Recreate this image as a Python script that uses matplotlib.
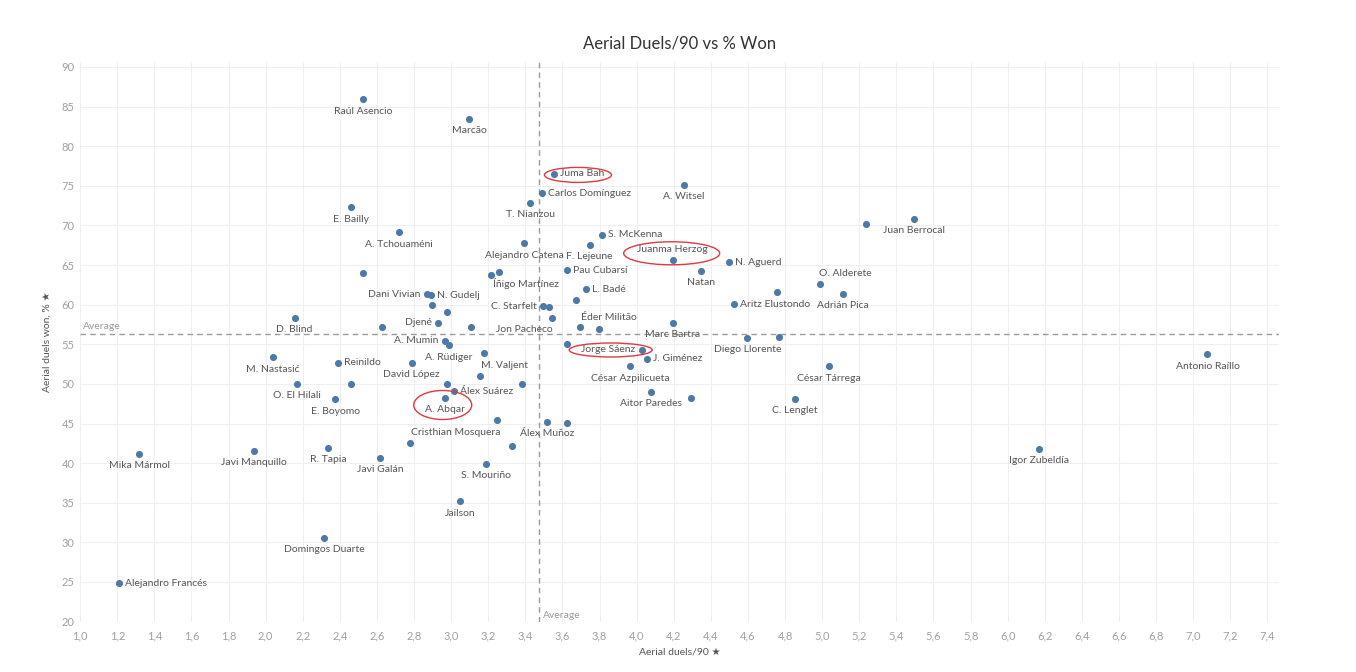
import matplotlib
matplotlib.use("Agg")
import matplotlib.pyplot as plt
from matplotlib.patches import Ellipse
from matplotlib.transforms import IdentityTransform
from matplotlib.ticker import FuncFormatter, MultipleLocator

plt.rcParams['font.family'] = ['Lato', 'DejaVu Sans']

# --- data ---
names = ["Raúl Asencio", "Marcão", "E. Bailly", "A. Tchouaméni", "T. Nianzou",
         "Alejandro Catena", "", "Dani Vivian", "N. Gudelj", "", "", "Djené", "",
         "D. Blind", "", "", "Íñigo Martínez", "A. Mumin", "A. Rüdiger",
         "M. Nastasić", "Reinildo", "David López", "M. Valjent", "", "O. El Hilali",
         "", "E. Boyomo", "", "Álex Suárez", "A. Abqar", "", "Cristhian Mosquera",
         "", "", "S. Mouriño", "Jailson", "Mika Mármol", "Javi Manquillo", "R. Tapia",
         "Javi Galán", "Domingos Duarte", "Alejandro Francés", "Juma Bah", "A. Witsel",
         "Carlos Domínguez", "S. McKenna", "F. Lejeune", "Juanma Herzog", "Natan",
         "N. Aguerd", "O. Alderete", "Pau Cubarsí", "L. Badé", "", "C. Starfelt", "",
         "Jon Pacheco", "", "Éder Militão", "Marc Bartra", "Diego Llorente", "",
         "Jorge Sáenz", "", "J. Giménez", "César Azpilicueta", "César Tárrega",
         "Aritz Elustondo", "", "Aitor Paredes", "", "C. Lenglet", "Álex Muñoz", "",
         "", "Juan Berrocal", "Adrián Pica", "Antonio Raíllo", "Igor Zubeldía"]

duels90 = [2.525, 3.098, 2.458, 2.717, 3.426, 3.394, 2.525, 2.868, 2.890, 2.898,
           2.976, 2.927, 2.627, 2.156, 3.107, 3.216, 3.256, 2.965, 2.987, 2.039,
           2.388, 2.787, 3.175, 3.157, 2.167, 2.458, 2.375, 2.976, 3.015, 2.965,
           3.383, 3.245, 2.776, 3.328, 3.186, 3.047, 1.317, 1.935, 2.336, 2.618,
           2.316, 1.207, 3.554, 4.253, 3.488, 3.815, 3.746, 4.194, 4.347, 4.496,
           4.986, 3.624, 3.725, 3.675, 3.495, 3.527, 3.545, 3.696, 3.797, 4.194,
           4.596, 4.766, 4.027, 3.624, 4.056, 3.966, 5.035, 4.523, 4.755, 4.075,
           4.294, 4.855, 3.516, 3.626, 5.236, 5.496, 5.114, 7.077, 6.170]

won_pct = [85.92, 83.47, 72.29, 69.14, 72.87, 67.75, 64.00, 61.31, 61.18, 60.00,
           59.08, 57.69, 57.19, 58.36, 57.19, 63.75, 64.16, 55.42, 54.87, 53.36,
           52.64, 52.64, 53.86, 50.96, 49.99, 49.99, 48.06, 49.99, 49.10, 48.22,
           49.99, 45.41, 42.58, 42.16, 39.93, 35.18, 41.16, 41.57, 41.91, 40.65,
           30.59, 24.87, 76.50, 75.14, 74.06, 68.84, 67.57, 65.60, 64.25, 65.35,
           62.57, 64.34, 61.94, 60.59, 59.83, 59.74, 58.36, 57.19, 56.93, 57.69,
           55.80, 55.88, 54.28, 55.04, 53.19, 52.22, 52.22, 60.05, 61.60, 48.98,
           48.22, 48.14, 45.23, 45.07, 70.15, 70.82, 61.35, 53.74, 41.79]

avg_duels90 = 3.476
avg_won = 56.35

highlighted = ["Juma Bah", "Juanma Herzog", "Jorge Sáenz", "A. Abqar"]

# --- label placement (b=below, a=above, r=right, l=left) ---
place = {"Dani Vivian": "l", "N. Gudelj": "r", "Djené": "l", "A. Mumin": "l",
         "Reinildo": "r", "Álex Suárez": "r", "Alejandro Francés": "r",
         "Juma Bah": "r", "Carlos Domínguez": "r", "S. McKenna": "r",
         "Juanma Herzog": "a", "N. Aguerd": "r", "O. Alderete": "a",
         "Pau Cubarsí": "r", "L. Badé": "r", "C. Starfelt": "l", "Éder Militão": "a",
         "Jorge Sáenz": "l", "J. Giménez": "r", "Aritz Elustondo": "r"}
nudge = {"Íñigo Martínez": 27, "M. Valjent": 21, "Cristhian Mosquera": -41,
         "Jon Pacheco": -28, "O. Alderete": 26, "Éder Militão": 10}
# ellipse: dx, dy (px from dot), width, height (px)
ring = {"Juma Bah": (24, -1, 67, 15), "Juanma Herzog": (-1, 7, 96, 23),
        "Jorge Sáenz": (-31, 0, 83, 14), "A. Abqar": (-2, -7, 58, 29)}

dot_color = "#4e79a7"
label_color = "#555555"
tick_color = "#a0a0a0"

fig = plt.figure(figsize=(13.56, 6.72), dpi=100)
ax = fig.add_axes([80.2 / 1356, 50.4 / 672, 1198.3 / 1356, 559.4 / 672])

ax.set_xlim(1.0, 7.46)
ax.set_ylim(20, 90.6)
ax.xaxis.set_major_locator(MultipleLocator(0.2))
ax.yaxis.set_major_locator(MultipleLocator(5))
ax.xaxis.set_major_formatter(FuncFormatter(lambda v, p: f"{v:.1f}".replace(".", ",")))
ax.yaxis.set_major_formatter(FuncFormatter(lambda v, p: f"{v:.0f}"))
ax.grid(True, color="#efefef", linewidth=0.8)
ax.set_axisbelow(True)
for s in ax.spines.values():
    s.set_visible(False)
ax.tick_params(length=0, labelsize=8, colors=tick_color, pad=4)
ax.tick_params(axis="x", pad=6)

ax.scatter(duels90, won_pct, s=26, color=dot_color, zorder=3, linewidths=0)

ax.axvline(avg_duels90, color="#9a9a9a", linestyle=(0, (4, 3)), linewidth=1, zorder=2)
ax.axhline(avg_won, color="#9a9a9a", linestyle=(0, (4, 3)), linewidth=1, zorder=2)
ax.annotate("Average", (1.0, avg_won), xytext=(3, 3), textcoords="offset pixels",
            fontsize=7.5, color="#9a9a9a", va="bottom", ha="left")
ax.annotate("Average", (avg_duels90, 20), xytext=(3, 2), textcoords="offset pixels",
            fontsize=7.5, color="#9a9a9a", va="bottom", ha="left")

for n, x, y in zip(names, duels90, won_pct):
    if not n:
        continue
    p = place.get(n, "b")
    dx = nudge.get(n, 0)
    if p == "b":
        off, ha = (dx, -12), "center"
    elif p == "a":
        off, ha = (dx, 11), "center"
    elif p == "r":
        off, ha = (6, 0), "left"
    else:
        off, ha = (-6, 0), "right"
    ax.annotate(n, (x, y), xytext=off, textcoords="offset pixels", ha=ha,
                va="center", fontsize=7.5, color=label_color, zorder=4)

ax.set_title("Aerial Duels/90 vs % Won", fontsize=12, color="#333333", pad=10)
ax.set_xlabel("Aerial duels/90 \u2605", fontsize=7.5, color=label_color, labelpad=5)
ax.set_ylabel("Aerial duels won, % \u2605", fontsize=7.5, color=label_color, labelpad=7)

fig.canvas.draw()
xl = ax.get_xticklabels()
xl[0].set_ha("left")
yl = ax.get_yticklabels()
yl[0].set_va("bottom")

for n, x, y in zip(names, duels90, won_pct):
    if n in highlighted:
        dx, dy, w, h = ring[n]
        cx, cy = ax.transData.transform((x, y))
        e = Ellipse((cx + dx, cy + dy), w, h, transform=IdentityTransform(),
                    fill=False, edgecolor="#e0393e", linewidth=1, zorder=5)
        fig.patches.append(e)
        e.set_figure(fig)

fig.savefig("out.png", dpi=100)
